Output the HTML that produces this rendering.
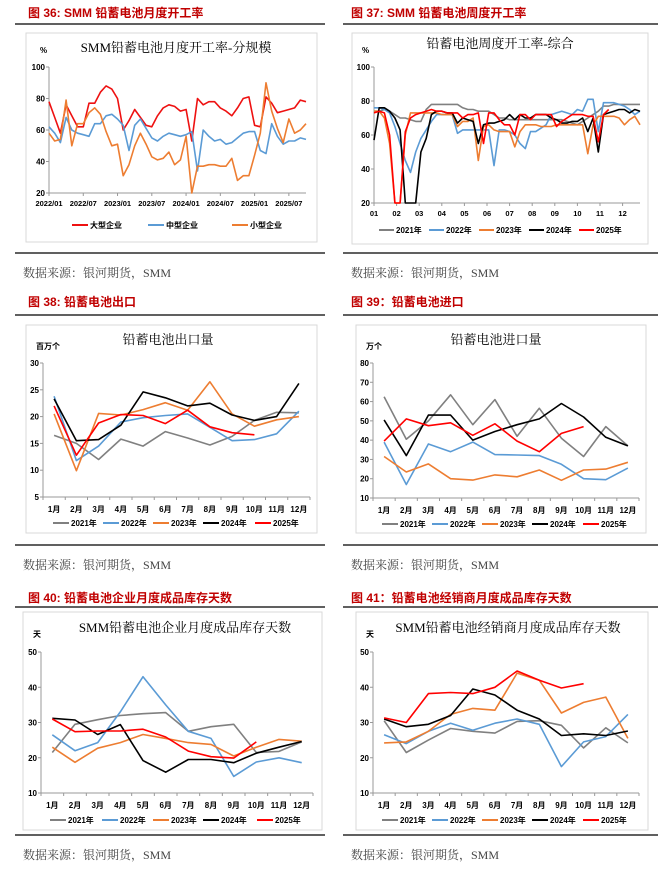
<!DOCTYPE html>
<html><head><meta charset="utf-8">
<style>
html,body{margin:0;padding:0;background:#fff;}
svg{display:block;font-family:"Liberation Sans","Noto Sans CJK SC",sans-serif;}
</style></head>
<body>
<svg id="page" width="668" height="877" viewBox="0 0 668 877" xmlns="http://www.w3.org/2000/svg"></svg>
<script>
// ---------- DATA ----------
const c1Labels = ["2022/01","2022/07","2023/01","2023/07","2024/01","2024/07","2025/01","2025/07"];
const c1Large = [78,68,58,76,69,62,62,77,77,84,88,86,80,60,66,73,68,63,62,69,74,76,75,72,73,53,80,76,78,78,74,72,69,74,80,81,63,62,81,77,71,72,73,74,79,78];
const c1Mid = [62,58,52,68,60,58,57,56,64,64,69,70,67,63,47,63,67,61,55,53,56,58,57,56,57,59,34,60,56,53,54,51,52,55,58,59,59,47,45,64,56,51,53,53,55,54];
const c1Small = [58,53,54,79,50,64,64,71,74,70,59,50,51,31,38,50,58,51,43,41,42,46,38,41,56,20,37,37,38,38,37,37,42,28,31,31,44,58,90,72,61,52,67,58,60,64];

const c2Months = ["01","02","03","04","05","06","07","08","09","10","11","12"];
const c2y2021 = [74,74,75,74,72,70,70,69,68,68,75,78,78,78,78,78,78,76,75,75,74,74,74,72,70,70,69,69,69,69,69,69,69,69,69,69,69,68,67,66,68,70,72,74,77,77,78,78,78,78,78,78];
const c2y2022 = [76,76,75,73,65,55,45,38,50,58,63,68,72,72,72,72,61,63,63,63,63,63,63,42,63,63,62,60,55,52,62,62,64,66,72,73,74,73,72,75,74,81,81,62,79,79,79,78,77,75,72,74];
const c2y2023 = [74,74,70,55,20,20,60,73,73,73,73,73,73,72,72,72,65,68,68,70,45,65,66,63,62,62,62,53,62,66,66,66,65,65,65,66,66,66,66,66,66,49,66,71,71,71,71,70,66,69,71,66];
const c2y2024 = [57,76,76,74,70,63,20,20,20,50,58,72,74,74,73,73,67,70,69,68,55,66,67,67,68,69,72,69,72,70,70,72,72,72,70,69,67,67,68,68,70,62,70,50,72,73,74,75,75,73,75,74];
const c2y2025 = [73,74,73,60,20,20,62,70,72,73,74,75,74,74,73,73,73,70,72,72,73,55,73,73,69,66,66,60,72,72,69,72,72,72,72,65,68,70,72,72,72,71,71,56,72,75];

const monthLabels = ["1月","2月","3月","4月","5月","6月","7月","8月","9月","10月","11月","12月"];
const c3y2021 = [16.5,15,12,15.8,14.5,17.2,16,14.7,16.3,19.3,20.8,20.7];
const c3y2022 = [23.8,11.8,14.5,19,19.8,20.2,20.5,18,15.5,15.7,16.8,21];
const c3y2023 = [20.5,9.9,20.6,20.3,21.3,22.6,21.2,26.5,20.5,18.2,19.4,20];
const c3y2024 = [23.3,15.5,15.7,18.4,24.6,23.5,22,22.5,20.3,19.3,20,26.2];
const c3y2025 = [22,12.8,18.8,20.4,20.2,18.7,21.2,18.1,17,16.6];

const c4y2021 = [62.5,40.5,50,63.5,48,61,42,56.5,41,31.5,47,37];
const c4y2022 = [39,17,38,34,39,32.5,32.3,32,27.5,20,19.5,25.5];
const c4y2023 = [31.5,23.5,27.7,20,19.3,22,21,24.5,19.2,24.5,25,28.5];
const c4y2024 = [50.5,32,53,53,40,44.5,48,51,59,52,41.5,37];
const c4y2025 = [39.5,51,47.5,49,42.5,48.5,39.5,34,43.5,47];

const c5y2021 = [21.5,29.5,30.8,32,32.5,32.8,27.5,28.8,29.5,21.5,21.8,24.5];
const c5y2022 = [26.5,22,24.3,33,43,35,27.5,25.5,14.7,18.8,20,18.6];
const c5y2023 = [23,18.7,22.7,24.3,26.6,25.5,24.3,23.8,20.5,23,25.2,24.7];
const c5y2024 = [31.2,30.7,26.6,29.4,19.2,15.9,19.5,19.5,18.6,21.3,23,24.6];
const c5y2025 = [31,27.4,27.6,27.6,28.1,25.9,21.9,20.3,19.9,24.5];

const c6y2021 = [30.5,21.5,25,28.3,27.5,27,30.3,30.5,29.2,22.8,28.5,24.2];
const c6y2022 = [26.5,24,27.5,29.8,27.8,29.8,31,29.5,17.5,24.5,26,32.3];
const c6y2023 = [24.2,24.5,27.5,32.3,34,33.5,44,42,32.7,35.7,37.2,25.5];
const c6y2024 = [31,28.8,29.5,32,39.5,37.8,33.5,31,26.3,26.8,26.3,27.6];
const c6y2025 = [31.3,30,38.2,38.5,38.2,40,44.6,42,39.8,41];

const yearNames = ["2021年","2022年","2023年","2024年","2025年"];
const yearColors = ["#808080","#5b9bd5","#ed7d31","#000000","#ff0000"];

// ---------- HELPERS ----------
const NS = "http://www.w3.org/2000/svg";
const root = document.getElementById('page');
function mk(tag, attrs, parent, txt){
  const e = document.createElementNS(NS, tag);
  for (const k in attrs) e.setAttribute(k, attrs[k]);
  if (txt !== undefined) e.textContent = txt;
  (parent || root).appendChild(e);
  return e;
}
function text(x,y,s,opt,parent){
  const t = mk('text', Object.assign({x:x,y:y,'font-size':9,fill:'#000'}, opt||{}), parent, s);
  return t;
}

function panel(cfg){
  const g = mk('g', {});
  
  
  const h = text(cfg.hx, cfg.hy, cfg.header, {'font-size':12,'font-weight':'bold',fill:'#c00000'}, g);
  
  
  const r1 = mk('line', {x1:cfg.rx1,x2:cfg.rx2,y1:cfg.ry1,y2:cfg.ry1,stroke:'#000','stroke-width':1.2}, g);
  
  
  const r2 = mk('line', {x1:cfg.rx1,x2:cfg.rx2,y1:cfg.ry2,y2:cfg.ry2,stroke:'#000','stroke-width':1.2}, g);
  
  
  const b = mk('rect', {x:cfg.bx,y:cfg.by,width:cfg.bw,height:cfg.bh,fill:'#fff',stroke:'#d9d9d9','stroke-width':1}, g);
  
  
  const src = text(cfg.rx1+8, cfg.ry2+24, '数据来源：银河期货，SMM', {'font-size':12,fill:'#444','font-family':'"Liberation Serif","Noto Serif CJK SC",serif'}, g);
  
  
  return g;
}

function chart(g, cfg){
  const title = text(cfg.tx, cfg.ty, cfg.title, {'font-size':13,'text-anchor':'middle','font-family':'"Liberation Serif","Noto Serif CJK SC",serif'}, g);
  
  
  const unit = text(cfg.ux, cfg.uy, cfg.unit, {'font-size':8,'font-weight':'bold'}, g);
  
  
  const yS = v => cfg.y0 + (v - cfg.ymin) / (cfg.ymax - cfg.ymin) * (cfg.y1 - cfg.y0);
  // y axis
  const ya = mk('line', {x1:cfg.x0,x2:cfg.x0,y1:cfg.y0,y2:cfg.y1,stroke:'#999','stroke-width':1}, g);
  
  
  for (let v = cfg.ymin; v <= cfg.ymax + 1e-9; v += cfg.ystep){
    const yy = yS(v);
    mk('line', {x1:cfg.x0-3,x2:cfg.x0,y1:yy,y2:yy,stroke:'#999'}, g);
    const t = text(cfg.x0-4, yy+3, String(v), {'font-size':8,'text-anchor':'end','font-weight':'bold'}, g);
    
    
  }
  const xa = mk('line', {x1:cfg.x0,x2:cfg.x1,y1:cfg.y0,y2:cfg.y0,stroke:'#999','stroke-width':1}, g);
  
  
  let xS;
  if (cfg.mode === 'category'){
    const n = cfg.cats.length, w = (cfg.x1 - cfg.x0) / n;
    xS = i => cfg.x0 + w * (i + 0.5);
    for (let i = 0; i <= n; i++){
      const xx = cfg.x0 + w*i;
      mk('line', {x1:xx,x2:xx,y1:cfg.y0,y2:cfg.y0+3,stroke:'#999'}, g);
    }
    cfg.cats.forEach((c,i) => {
      const t = text(xS(i), cfg.y0+15, c, {'font-size':8,'text-anchor':'middle','font-weight':'bold'}, g);
      
      
    });
  } else {
    const n = cfg.npts - 1;
    xS = i => cfg.x0 + (cfg.x1 - cfg.x0) * i / n;
    cfg.cats.forEach((c,k) => {
      const xx = xS(k * cfg.labelEvery);
      mk('line', {x1:xx,x2:xx,y1:cfg.y0,y2:cfg.y0+3,stroke:'#999'}, g);
      const t = text(xx + (cfg.labelShift||0), cfg.y0+13, c, {'font-size':7.5,'text-anchor':'middle','font-weight':'bold'}, g);
      
      
    });
  }
  cfg.series.forEach((s, si) => {
    const pts = s.data.map((v,i) => xS(i).toFixed(1) + ',' + yS(v).toFixed(1)).join(' ');
    const pl = mk('polyline', {points:pts,fill:'none',stroke:s.color,'stroke-width':s.w||1.6,'stroke-linejoin':'round'}, g);
    
    
    const lx = cfg.legX[si];
    const ll = mk('line', {x1:lx,x2:lx+cfg.legLen,y1:cfg.legY,y2:cfg.legY,stroke:s.color,'stroke-width':2}, g);
    
    
    const lt = text(lx+cfg.legLen+2, cfg.legY+3, s.label, {'font-size':8,'font-weight':'bold'}, g);
    
    
  });
}

function yearSeries(arrs){
  return arrs.map((a,i) => ({data:a, color:yearColors[i], label:yearNames[i], key:'y'+(2021+i)}));
}

// ---------- PANELS ----------
// Fig 36
let g = panel({name:'figure-36-panel',header:'图 36:    SMM 铅蓄电池月度开工率',hx:28,hy:17,rx1:15,rx2:325,ry1:24,ry2:253,bx:26,by:33,bw:291,bh:209});
chart(g,{title:'SMM铅蓄电池月度开工率-分规模',tx:176,ty:52,unit:'%',ux:40,uy:53,
  x0:49,x1:306,y0:193,y1:67,ymin:20,ymax:100,ystep:20,mode:'index',npts:46,cats:c1Labels,labelEvery:6,
  series:[{data:c1Large,color:'#ee1111',label:'大型企业',key:'large'},{data:c1Mid,color:'#5b9bd5',label:'中型企业',key:'mid'},{data:c1Small,color:'#ed7d31',label:'小型企业',key:'small'}],
  legX:[72,148,232],legLen:16,legY:225});

// Fig 37
g = panel({name:'figure-37-panel',header:'图 37:    SMM 铅蓄电池周度开工率',hx:351,hy:17,rx1:343,rx2:658,ry1:24,ry2:253,bx:352,by:33,bw:296,bh:211});
chart(g,{title:'铅蓄电池周度开工率-综合',tx:500,ty:48,unit:'%',ux:362,uy:53,
  x0:374,x1:640,y0:203,y1:67,ymin:20,ymax:100,ystep:20,mode:'index',npts:52,cats:c2Months,labelEvery:4.333,
  series:yearSeries([c2y2021,c2y2022,c2y2023,c2y2024,c2y2025]),
  legX:[379,429,479,529,579],legLen:15,legY:230});

// Fig 38
g = panel({name:'figure-38-panel',header:'图 38:    铅蓄电池出口',hx:28,hy:306,rx1:15,rx2:325,ry1:315,ry2:545,bx:26,by:325,bw:291,bh:208});
chart(g,{title:'铅蓄电池出口量',tx:168,ty:344,unit:'百万个',ux:36,uy:349,
  x0:43,x1:310,y0:497,y1:363,ymin:5,ymax:30,ystep:5,mode:'category',cats:monthLabels,
  series:yearSeries([c3y2021,c3y2022,c3y2023,c3y2024,c3y2025]),
  legX:[53,103,153,203,255],legLen:16,legY:523});

// Fig 39
g = panel({name:'figure-39-panel',header:'图 39：铅蓄电池进口',hx:351,hy:306,rx1:343,rx2:658,ry1:315,ry2:545,bx:356,by:325,bw:290,bh:208});
chart(g,{title:'铅蓄电池进口量',tx:496,ty:344,unit:'万个',ux:366,uy:349,
  x0:373,x1:639,y0:498,y1:363,ymin:10,ymax:80,ystep:10,mode:'category',cats:monthLabels,
  series:yearSeries([c4y2021,c4y2022,c4y2023,c4y2024,c4y2025]),
  legX:[382,432,482,532,583],legLen:16,legY:524});

// Fig 40
g = panel({name:'figure-40-panel',header:'图 40:    铅蓄电池企业月度成品库存天数',hx:28,hy:602,rx1:15,rx2:325,ry1:607,ry2:835,bx:23,by:612,bw:299,bh:218});
chart(g,{title:'SMM铅蓄电池企业月度成品库存天数',tx:185,ty:632,unit:'天',ux:33,uy:637,
  x0:41,x1:313,y0:793,y1:652,ymin:10,ymax:50,ystep:10,mode:'category',cats:monthLabels,
  series:yearSeries([c5y2021,c5y2022,c5y2023,c5y2024,c5y2025]),
  legX:[50,102,153,203,257],legLen:16,legY:820});

// Fig 41
g = panel({name:'figure-41-panel',header:'图 41：铅蓄电池经销商月度成品库存天数',hx:351,hy:602,rx1:343,rx2:658,ry1:607,ry2:835,bx:356,by:612,bw:292,bh:218});
chart(g,{title:'SMM铅蓄电池经销商月度成品库存天数',tx:508,ty:632,unit:'天',ux:366,uy:637,
  x0:373,x1:639,y0:793,y1:652,ymin:10,ymax:50,ystep:10,mode:'category',cats:monthLabels,
  series:yearSeries([c6y2021,c6y2022,c6y2023,c6y2024,c6y2025]),
  legX:[382,432,482,532,583],legLen:16,legY:820});
</script>
</body></html>
